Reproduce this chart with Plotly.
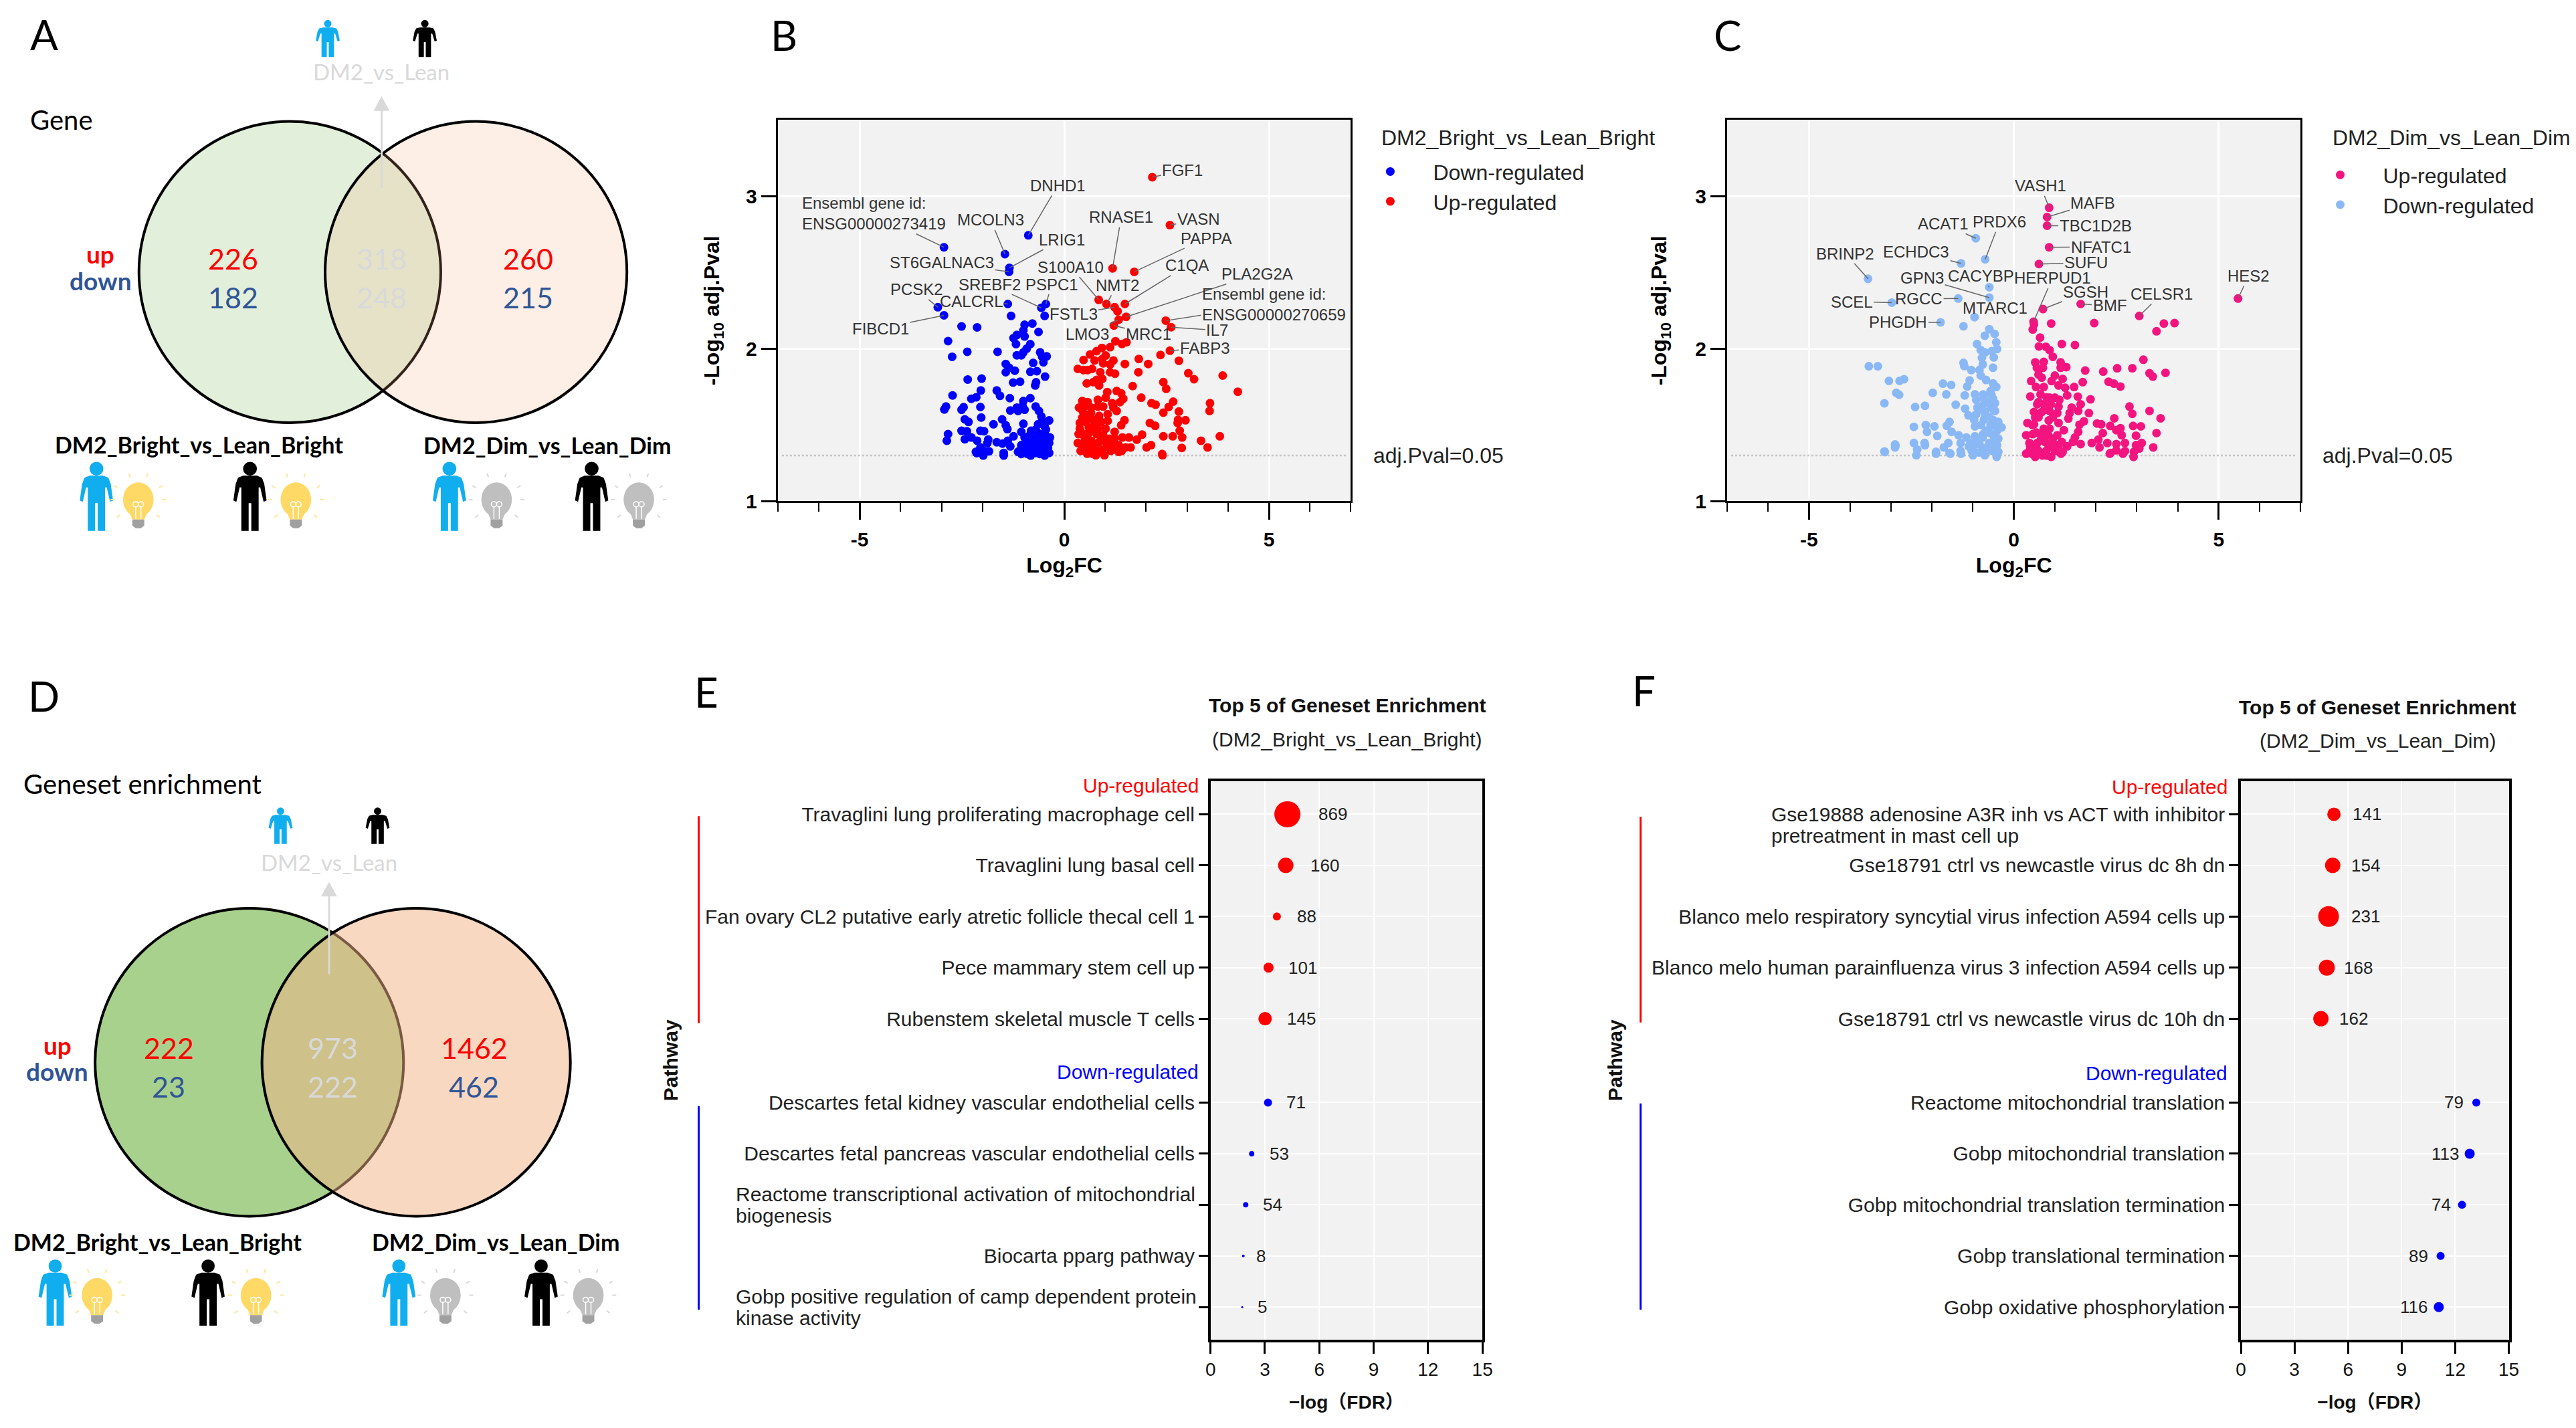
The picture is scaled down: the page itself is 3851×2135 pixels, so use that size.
import math
import plotly.graph_objects as go

W, H = 3851, 2135

# ---------- DATA ----------
venn_a_up = [226, 318, 260]
venn_a_down = [182, 248, 215]
venn_d_up = [222, 973, 1462]
venn_d_down = [23, 222, 462]

b_down_body = [(-2.51,2.146),(-2.13,2.14),(-2.84,2.05),(-0.63,2.11),(-0.97,2.157),(-0.78,2.165),(-1.0,2.12),(-1.16,2.09),(-1.24,2.07),(-0.97,2.08),(-1.18,2.03),(-0.83,2.03),(-0.92,2.0),(-1.0,1.976),(-1.16,1.957),(-1.05,1.957),(-2.37,1.98),(-2.74,1.947),(-1.63,1.98),(-0.59,1.976),(-0.43,1.95),(-0.54,1.947),(-0.51,1.911),(-0.76,1.907),(-1.43,1.9),(-1.35,1.875),(-1.21,1.856),(-1.43,1.846),(-0.83,1.849),(-0.67,1.853),(-0.47,1.817),(-1.25,1.778),(-1.08,1.784),(-0.69,1.78),(-0.71,1.759),(-2.36,1.798),(-2.02,1.804),(-2.04,1.726),(-2.73,1.694),(-2.27,1.672),(-2.15,1.682),(-1.65,1.726),(-1.57,1.691),(-1.33,1.676),(-2.89,1.621),(-2.93,1.602),(-2.46,1.617),(-2.51,1.6),(-2.05,1.618),(-0.83,1.676),(-1.0,1.657),(-1.02,1.624),(-1.16,1.614),(-1.32,1.595),(-1.13,1.592),(-0.97,1.6),(-0.7,1.621),(-0.62,1.592),(-0.56,1.556),(-0.37,1.53),(-0.54,1.527),(-2.03,1.549),(-2.43,1.537),(-2.34,1.52),(-1.73,1.505),(-1.52,1.537),(-1.43,1.498),(-1.39,1.473),(-1.0,1.508),(-0.64,1.505),(-0.48,1.491),(-2.51,1.462),(-2.38,1.459),(-2.05,1.462),(-1.96,1.459),(-2.84,1.44),(-2.87,1.397),(-2.43,1.407),(-2.27,1.418),(-2.13,1.397),(-1.86,1.404),(-1.88,1.382),(-1.65,1.387),(-1.51,1.378),(-1.38,1.397),(-1.24,1.426),(-1.05,1.455),(-0.97,1.418),(-0.81,1.462),(-0.64,1.447),(-0.48,1.447),(-0.35,1.418),(-0.54,1.404),(-0.75,1.411),(-0.92,1.39),(-0.37,1.382),(-0.64,1.375),(-1.05,1.368),(-1.32,1.36),(-0.4,1.346),(-0.56,1.339),(-0.81,1.346),(-0.97,1.331),(-1.13,1.324),(-1.48,1.317),(-1.84,1.328),(-1.97,1.331),(-2.16,1.324),(-2.05,1.353),(-0.37,1.317),(-0.7,1.317),(-2.14,1.316),(-1.98,1.30),(-1.48,1.30),(-1.05,1.31),(-0.82,1.30),(-0.48,1.30),(-0.40,1.354),(-1.30,2.215),(-0.48,2.215),(-0.45,1.47),(-0.6,1.43),(-0.75,1.38),(-0.9,1.35),(-0.5,1.36),(-0.65,1.35),(-0.85,1.43),(-0.7,1.47),(-0.55,1.32),(-1.0,1.37),(-0.9,1.31),(-0.6,1.31),(-0.45,1.33),(-0.8,1.31),(-0.5,1.40),(-1.1,1.33)]
b_down_named = {"DNHD1":(-0.88,2.743),"Ensembl gene id:<br>ENSG00000273419":(-2.94,2.665),"MCOLN3":(-1.45,2.62),"LRIG1":(-1.34,2.53),"ST6GALNAC3":(-1.35,2.504),"CALCRL":(-1.38,2.293),"PSPC1":(-0.45,2.293),"SREBF2":(-0.56,2.268),"PCSK2":(-3.09,2.272),"FIBCD1":(-2.94,2.219)}

b_up_body = [(1.25,2.049),(1.41,2.031),(1.52,2.042),(1.12,2.01),(0.92,2.005),(0.79,1.984),(0.63,1.962),(2.35,1.959),(2.8,1.921),(1.82,1.933),(2.05,1.9),(1.48,1.9),(1.01,1.955),(0.93,1.933),(0.74,1.923),(0.47,1.926),(1.2,1.923),(0.95,1.904),(1.12,1.897),(0.33,1.868),(0.47,1.86),(0.68,1.868),(0.57,1.86),(0.88,1.846),(1.12,1.846),(1.24,1.836),(1.81,1.846),(3.03,1.839),(3.17,1.8),(3.87,1.824),(0.93,1.802),(0.79,1.795),(0.55,1.773),(0.71,1.781),(0.85,1.759),(1.67,1.755),(2.42,1.781),(2.49,1.737),(4.24,1.718),(1.05,1.716),(1.28,1.723),(1.39,1.708),(1.44,1.672),(1.01,1.679),(1.88,1.679),(0.44,1.657),(0.57,1.65),(0.82,1.665),(0.36,1.614),(0.49,1.621),(0.66,1.614),(0.82,1.621),(0.95,1.621),(1.17,1.643),(1.36,1.65),(1.2,1.614),(1.28,1.592),(2.13,1.643),(2.23,1.633),(2.66,1.653),(2.55,1.618),(2.8,1.588),(2.42,1.581),(3.56,1.643),(3.55,1.592),(1.06,1.571),(0.44,1.549),(0.6,1.556),(0.38,1.513),(0.52,1.52),(0.71,1.534),(0.9,1.52),(1.06,1.527),(1.47,1.531),(1.39,1.498),(2.09,1.513),(2.22,1.495),(2.78,1.534),(2.96,1.531),(2.77,1.513),(0.38,1.476),(0.6,1.484),(0.82,1.476),(1.01,1.476),(2.82,1.462),(1.23,1.455),(0.6,1.447),(0.44,1.447),(0.79,1.44),(0.95,1.433),(2.42,1.426),(2.65,1.426),(2.88,1.418),(1.9,1.437),(1.77,1.404),(1.58,1.418),(1.42,1.418),(1.23,1.411),(3.8,1.426),(3.34,1.397),(3.5,1.353),(0.33,1.382),(0.49,1.389),(0.66,1.397),(0.85,1.389),(0.98,1.397),(1.14,1.375),(1.33,1.368),(1.5,1.353),(1.62,1.353),(2.12,1.368),(2.01,1.353),(2.87,1.35),(0.44,1.346),(0.6,1.353),(0.76,1.339),(0.93,1.339),(1.14,1.331),(1.33,1.324),(2.39,1.31),(0.56,1.312),(0.77,1.302),(0.98,1.302),(0.51,1.354),(2.4,1.302),(1.30,2.245),(0.35,1.44),(0.5,1.42),(0.65,1.37),(0.45,1.36),(0.55,1.32),(0.7,1.31),(0.85,1.33),(0.4,1.33),(0.65,1.47),(0.75,1.51),(0.5,1.55),(0.85,1.56),(0.65,1.58),(0.45,1.59),(0.75,1.36),(0.9,1.42),(1.1,1.41),(1.05,1.36),(1.2,1.34),(1.4,1.33)]
b_up_named = {"FGF1":(2.15,3.124),"VASN":(2.58,2.81),"RNASE1":(1.18,2.527),"PAPPA":(1.71,2.504),"S100A10":(0.84,2.32),"NMT2":(1.03,2.293),"C1QA":(1.48,2.293),"FSTL3":(1.23,2.272),"PLA2G2A":(1.51,2.209),"Ensembl gene id:<br>ENSG00000270659":(2.48,2.184),"IL7":(2.61,2.141),"MRC1":(1.21,2.152),"LMO3":(1.33,2.19),"FABP3":(2.58,1.987)}

c_down_body = [(-1.23,2.147),(-0.6,2.128),(-0.47,2.097),(-0.71,2.085),(-0.43,2.042),(-0.9,2.031),(-0.41,1.998),(-0.81,1.991),(-0.7,1.976),(-0.54,1.984),(-0.49,1.943),(-0.78,1.94),(-0.76,1.897),(-0.51,1.875),(-3.54,1.885),(-3.32,1.885),(-1.23,1.907),(-1.21,1.886),(-1.04,1.86),(-0.84,1.86),(-0.81,1.824),(-3.05,1.789),(-2.79,1.789),(-2.68,1.8),(-2.87,1.711),(-2.8,1.698),(-3.16,1.642),(-1.73,1.771),(-1.53,1.762),(-1.08,1.792),(-1.14,1.752),(-1.98,1.711),(-1.65,1.701),(-1.2,1.694),(-0.68,1.795),(-0.51,1.773),(-0.43,1.749),(-0.57,1.723),(-0.95,1.701),(-0.92,1.665),(-0.73,1.672),(-0.51,1.672),(-0.76,1.629),(-0.57,1.621),(-0.46,1.643),(-0.89,1.614),(-0.46,1.592),(-0.7,1.585),(-0.92,1.57),(-1.42,1.633),(-1.19,1.607),(-2.41,1.618),(-2.17,1.626),(-1.11,1.563),(-0.97,1.534),(-0.95,1.491),(-0.73,1.534),(-0.51,1.534),(-0.38,1.52),(-0.3,1.484),(-0.57,1.498),(-0.41,1.462),(-0.68,1.462),(-0.51,1.433),(-2.44,1.488),(-2.15,1.5),(-2.12,1.455),(-1.94,1.491),(-1.87,1.428),(-1.57,1.52),(-1.64,1.495),(-1.52,1.455),(-1.35,1.433),(-1.16,1.418),(-0.95,1.426),(-0.76,1.418),(-0.38,1.411),(-1.3,1.382),(-1.06,1.382),(-0.84,1.375),(-0.6,1.382),(-0.41,1.368),(-2.44,1.382),(-2.18,1.382),(-2.17,1.368),(-2.9,1.372),(-2.9,1.353),(-3.16,1.327),(-2.36,1.339),(-1.6,1.382),(-1.71,1.353),(-1.9,1.324),(-1.57,1.317),(-1.3,1.331),(-1.03,1.331),(-0.78,1.324),(-0.54,1.331),(-0.38,1.324),(-3.15,1.323),(-2.89,1.365),(-2.38,1.302),(-1.9,1.312),(-1.55,1.312),(-1.0,1.302),(-0.42,1.291),(-1.29,1.312),(-0.71,1.302),(-0.5,1.6),(-0.6,1.55),(-0.7,1.56),(-0.8,1.5),(-0.65,1.65),(-0.55,1.7),(-0.75,1.7),(-0.85,1.6),(-0.5,1.5),(-0.6,1.45),(-0.75,1.44),(-0.9,1.4),(-0.55,1.35),(-0.7,1.35),(-1.0,1.35),(-0.45,1.4),(-0.85,1.32),(-1.1,1.36)]
c_down_named = {"ACAT1":(-0.93,2.724),"PRDX6":(-0.70,2.586),"ECHDC3":(-1.29,2.559),"BRINP2":(-3.56,2.458),"CACYBP":(-0.6,2.403),"GPN3":(-0.6,2.335),"RGCC":(-1.36,2.329),"SCEL":(-2.98,2.302),"MTARC1":(-0.96,2.207),"PHGDH":(-1.79,2.173)}

c_up_body = [(0.49,2.16),(0.91,2.165),(3.66,2.165),(3.92,2.168),(1.96,2.168),(0.46,2.126),(3.48,2.114),(0.64,2.073),(1.17,2.031),(1.49,2.024),(0.61,2.015),(0.78,2.013),(0.87,1.991),(0.95,1.947),(3.16,1.928),(0.52,1.911),(0.73,1.914),(1.14,1.911),(0.56,1.875),(0.71,1.875),(1.28,1.879),(1.14,1.875),(1.74,1.857),(2.18,1.85),(2.52,1.872),(2.89,1.872),(3.31,1.839),(3.39,1.817),(3.7,1.842),(0.6,1.831),(0.68,1.81),(1.0,1.824),(1.19,1.802),(0.92,1.788),(0.42,1.788),(1.68,1.781),(2.31,1.784),(2.44,1.771),(2.6,1.752),(1.47,1.749),(0.54,1.749),(0.73,1.749),(1.09,1.759),(1.25,1.744),(0.65,1.701),(0.4,1.687),(1.3,1.694),(1.56,1.686),(0.87,1.679),(1.0,1.679),(1.11,1.665),(1.87,1.668),(0.57,1.636),(0.73,1.636),(0.9,1.636),(1.09,1.621),(1.63,1.636),(1.41,1.614),(0.49,1.585),(0.68,1.585),(0.87,1.592),(1.06,1.578),(1.57,1.592),(1.36,1.578),(1.83,1.578),(2.82,1.621),(2.89,1.573),(3.31,1.592),(3.58,1.544),(2.45,1.544),(1.33,1.542),(0.52,1.549),(0.33,1.513),(0.49,1.505),(1.09,1.513),(1.71,1.524),(1.6,1.502),(2.03,1.51),(2.13,1.505),(2.35,1.494),(2.91,1.494),(3.1,1.491),(2.6,1.479),(2.5,1.466),(2.63,1.433),(3.48,1.447),(0.73,1.476),(0.87,1.476),(1.22,1.466),(0.3,1.433),(0.46,1.44),(0.65,1.44),(0.84,1.433),(1.06,1.433),(1.57,1.455),(1.49,1.418),(2.17,1.447),(2.98,1.43),(0.38,1.382),(0.57,1.382),(0.76,1.389),(0.95,1.382),(1.17,1.389),(1.3,1.36),(1.44,1.389),(1.63,1.375),(1.9,1.382),(2.06,1.404),(2.28,1.382),(2.09,1.353),(2.5,1.375),(2.71,1.382),(3.12,1.382),(2.98,1.368),(3.4,1.353),(0.38,1.331),(0.57,1.339),(0.79,1.331),(1.0,1.331),(1.19,1.324),(2.36,1.317),(2.5,1.334),(2.71,1.329),(2.93,1.324),(3.06,1.346),(0.52,1.291),(0.91,1.291),(1.15,1.312),(2.34,1.312),(2.66,1.312),(2.92,1.291),(0.3,1.312),(0.45,1.5),(0.55,1.45),(0.65,1.4),(0.4,1.36),(0.6,1.33),(0.7,1.3),(0.85,1.36),(0.95,1.41),(0.75,1.44),(0.85,1.53),(0.6,1.55),(0.75,1.6),(0.95,1.55),(0.6,1.65),(0.8,1.68),(1.0,1.33),(0.45,1.31),(0.8,1.3),(1.1,1.37)]
c_up_named = {"VASH1":(0.86,2.924),"MAFB":(0.81,2.863),"TBC1D2B":(0.81,2.806),"NFATC1":(0.86,2.665),"SUFU":(0.61,2.555),"HERPUD1":(0.48,2.177),"SGSH":(0.71,2.26),"BMF":(1.63,2.293),"CELSR1":(3.06,2.215),"HES2":(5.47,2.329)}

volcano_x_ticks = [-5, 0, 5]
volcano_x_text = ["-5", "0", "5"]

e_pathways = ["Travaglini lung proliferating macrophage cell","Travaglini lung basal cell","Fan ovary CL2 putative early atretic follicle thecal cell 1","Pece mammary stem cell up","Rubenstem skeletal muscle T cells","Descartes fetal kidney vascular endothelial cells","Descartes fetal pancreas vascular endothelial cells","Reactome transcriptional activation of mitochondrial<br>biogenesis","Biocarta pparg pathway","Gobp positive regulation of camp dependent protein<br>kinase activity"]
e_logfdr = [4.24,4.15,3.66,3.2,3.01,3.17,2.27,1.94,1.81,1.75]
e_counts = [869,160,88,101,145,71,53,54,8,5]
f_pathways = ["Gse19888 adenosine A3R inh vs ACT with inhibitor<br>pretreatment in mast cell up","Gse18791 ctrl vs newcastle virus dc 8h dn","Blanco melo respiratory syncytial virus infection A594 cells up","Blanco melo human parainfluenza virus 3 infection A594 cells up","Gse18791 ctrl vs newcastle virus dc 10h dn","Reactome mitochondrial translation","Gobp mitochondrial translation","Gobp mitochondrial translation termination","Gobp translational termination","Gobp oxidative phosphorylation"]
f_logfdr = [5.21,5.14,4.91,4.81,4.48,13.18,12.81,12.38,11.18,11.08]
f_counts = [141,154,231,168,162,79,113,74,89,116]

# ---------- STYLE / LAYOUT TABLES ----------
ARIAL = "Liberation Sans, Arial, sans-serif"
CJK = "Liberation Sans, Noto Sans CJK SC, sans-serif"
LATO = "Lato, Carlito, sans-serif"
RED, BLUE, PINK, PALE = "#ff0000", "#0000ff", "#f4147f", "#8ab8f5"
NAVY, GREY = "#2f5597", "#d9d9d9"

b_text_at = {"FGF1":(2.89,3.169),"DNHD1":(-0.16,3.07),"Ensembl gene id:<br>ENSG00000273419":(-4.65,2.886),"MCOLN3":(-1.80,2.844),"LRIG1":(-0.06,2.715),"ST6GALNAC3":(-2.99,2.565),"RNASE1":(1.39,2.861),"VASN":(3.28,2.848),"PAPPA":(3.46,2.724),"C1QA":(3.0,2.546),"S100A10":(0.16,2.536),"PLA2G2A":(4.71,2.489),"SREBF2":(-1.82,2.422),"PSPC1":(-0.3,2.422),"NMT2":(1.29,2.416),"PCSK2":(-3.61,2.388),"CALCRL":(-2.27,2.312),"Ensembl gene id:<br>ENSG00000270659":(5.12,2.293),"FSTL3":(0.22,2.228),"FIBCD1":(-4.49,2.133),"IL7":(3.74,2.12),"LMO3":(0.57,2.097),"MRC1":(2.06,2.097),"FABP3":(3.44,2.004)}
c_text_at = {"VASH1":(0.65,3.068),"MAFB":(1.93,2.954),"TBC1D2B":(1.99,2.808),"ACAT1":(-1.73,2.819),"PRDX6":(-0.35,2.831),"NFATC1":(2.12,2.667),"BRINP2":(-4.11,2.624),"ECHDC3":(-2.38,2.633),"SUFU":(1.76,2.563),"HES2":(5.73,2.477),"GPN3":(-2.24,2.462),"CACYBP":(-0.8,2.477),"HERPUD1":(0.94,2.462),"SGSH":(1.76,2.371),"RGCC":(-2.32,2.327),"SCEL":(-3.96,2.308),"CELSR1":(3.61,2.359),"BMF":(2.34,2.283),"MTARC1":(-0.46,2.268),"PHGDH":(-2.82,2.173)}

rows = [1,2,3,4,5,6.64,7.64,8.64,9.64,10.64]
e_marker_px = [39,23,12,15,20,12,8,8,4,3]
f_marker_px = [20,23,31,24,23,12,15,12,12,15]
e_label_shift = [68,58,45,51,54,42,41,40,26,30]
f_label_shift = [49,49,55,47,49,-33,-37,-31,-33,-37]

ox, oy = 0, 0
X = lambda px: (px + ox) / W
Y = lambda py: 1 - (py + oy) / H
fig = go.Figure()
shapes, notes = [], []


def txt(text, px, py, size, color="#000", font=LATO, anchor="center", angle=0, align="center"):
    notes.append(dict(text=text, x=X(px), y=Y(py), xref="paper", yref="paper", showarrow=False,
                      xanchor=anchor, yanchor="middle", textangle=angle, align=align,
                      font=dict(size=size, color=color, family=font)))


def poly(pts, fill, line=None, lw=0):
    d = "M " + " L ".join(f"{X(a):.5f},{Y(b):.5f}" for a, b in pts) + " Z"
    shapes.append(dict(type="path", xref="paper", yref="paper", path=d, fillcolor=fill,
                       line=dict(color=line or fill, width=lw)))


def seg(x0, y0, x1, y1, color, width):
    shapes.append(dict(type="line", xref="paper", yref="paper", x0=X(x0), y0=Y(y0), x1=X(x1), y1=Y(y1),
                       line=dict(color=color, width=width)))


def ell(cx, cy, rx, ry, fill, line=None, lw=0):
    shapes.append(dict(type="circle", xref="paper", yref="paper", x0=X(cx-rx), x1=X(cx+rx), y0=Y(cy+ry), y1=Y(cy-ry),
                       fillcolor=fill, line=dict(color=line or "rgba(0,0,0,0)", width=lw)))


PERSON = [(-.2,.2),(.2,.2),(.36,.23),(.43,.32),(.5,.56),(.41,.58),(.31,.37),(.26,.37),(.26,1),(.04,1),(.04,.6),(-.04,.6),(-.04,1),(-.26,1),(-.26,.37),(-.31,.37),(-.41,.58),(-.5,.56),(-.43,.32),(-.36,.23)]


def person(cx, top, w, h, color):
    ell(cx, top + .1*h, .1*h, .1*h, color)
    poly([(cx + a*w, top + b*h) for a, b in PERSON], color)


def bulb(cx, cy, glass, ray):
    for a in (-150,-110,-70,-30,0,40,140,180):
        c, s = math.cos(math.radians(a)), math.sin(math.radians(a))
        seg(cx + 36*c, cy + 36*s, cx + 42*c, cy + 42*s, ray, 2)
    ell(cx, cy, 23, 26, glass)
    poly([(cx-14,cy+18),(cx+14,cy+18),(cx+9,cy+30),(cx-9,cy+30)], glass)
    poly([(cx-9,cy+30),(cx+9,cy+30),(cx+9,cy+39),(cx+4,cy+43),(cx-4,cy+43),(cx-9,cy+39)], "#a0a0a0")
    seg(cx-4, cy+29, cx-4, cy+10, "#ffffff", 1.5)
    seg(cx+4, cy+29, cx+4, cy+10, "#ffffff", 1.5)
    ell(cx-4, cy+7, 4, 4, "rgba(0,0,0,0)", "#ffffff", 1.5)
    ell(cx+4, cy+7, 4, 4, "rgba(0,0,0,0)", "#ffffff", 1.5)


YEL, YRAY, GB, GRAY = "#ffd966", "#ffe699", "#bfbfbf", "#d9d9d9"
BLUEP = "#10aeef"


def venn(cL, cR, cy, r, fL, fR, ups, downs, xs, y_up, y_dn, xud, y_u, y_d, numsize):
    ell(cL, cy, r, r, fL, "#000", 4)
    ell(cR, cy, r, r, fR, "#000", 4)
    for i, cx in enumerate(xs):
        txt(str(ups[i]), cx, y_up, numsize, GREY if i == 1 else RED)
        txt(str(downs[i]), cx, y_dn, numsize, GREY if i == 1 else NAVY)
    txt("<b>up</b>", xud, y_u, 37, RED)
    txt("<b>down</b>", xud, y_d, 37, NAVY)


# Panel A
ox, oy = -6, 4
venn(434, 714, 406, 227, "#e2efda", "rgba(244,177,131,0.2)", venn_a_up, venn_a_down, [349,572,792], 386, 444, 149, 379, 419, 43)
seg(572, 279, 572, 160, GRAY, 3)
poly([(572,141),(560,163),(584,163)], GRAY)
person(491, 26, 36, 56, BLUEP)
person(637, 26, 36, 56, "#000")
txt("DM2_vs_Lean", 572, 104, 33, GRAY)
txt("Gene", 91, 176, 40)
txt("<b>DM2_Bright_vs_Lean_Bright</b>", 297, 666, 34)
txt("<b>DM2_Dim_vs_Lean_Dim</b>", 821, 667, 34)
for cx, c, b, col, ry in [(143,BLUEP,206,YEL,YRAY),(374,"#000",443,YEL,YRAY),(674,BLUEP,745,GB,GRAY),(888,"#000",959,GB,GRAY)]:
    person(cx, 692, 50, 104, c)
    bulb(b, 749, col, ry)

# Panel D
ox, oy = -6, 10
venn(373, 624, 1591, 232, "#a9d18e", "rgba(244,177,131,0.5)", venn_d_up, venn_d_down, [252,499,711], 1569, 1628, 84, 1565, 1604, 43)
seg(493, 1458, 493, 1338, GRAY, 3)
poly([(493,1319),(481,1341),(505,1341)], GRAY)
person(420, 1207, 36, 55, BLUEP)
person(566, 1207, 36, 55, "#000")
txt("DM2_vs_Lean", 493, 1289, 33, GRAY)
txt("Geneset enrichment", 212, 1171, 40)
txt("<b>DM2_Bright_vs_Lean_Bright</b>", 235, 1861, 34)
txt("<b>DM2_Dim_vs_Lean_Dim</b>", 744, 1861, 34)
for cx, c, b, col, ry in [(81,BLUEP,144,YEL,YRAY),(311,"#000",383,YEL,YRAY),(598,BLUEP,668,GB,GRAY),(812,"#000",883,GB,GRAY)]:
    person(cx, 1888, 50, 100, c)
    bulb(b, 1942, col, ry)

ox, oy = 0, 0
txt("A", 58, 51, 62)
txt("B", 1171, 52, 62)
txt("C", 2591, 52, 62)
txt("D", 58, 1048, 62)
txt("E", 1055, 1042, 62)
txt("F", 2465, 1040, 62)


# Volcano panels
def volcano(sfx, left, right, top, bottom, first, second, named_texts, legend_id, lg_x, lg_y, title, title_x, pv_x, ystand):
    xa, ya = "x" + sfx, "y" + sfx
    fig.add_trace(go.Scatter(x=[-6.9, 6.9], y=[1.3, 1.3], mode="lines", xaxis=xa, yaxis=ya, showlegend=False,
                             hoverinfo="skip", line=dict(color="#c4c4c4", width=2.5, dash="dot")))
    for name, body, named, color in (first, second):
        pts = body + list(named.values())
        fig.add_trace(go.Scatter(x=[p[0] for p in pts], y=[p[1] for p in pts], mode="markers", name=name,
                                 xaxis=xa, yaxis=ya, legend=legend_id,
                                 marker=dict(size=13, color=color, opacity=1, line=dict(width=0))))
        for label, (px, py) in named.items():
            tx, ty = named_texts[label]
            notes.append(dict(text=label, x=px, y=py, ax=tx, ay=ty, xref=xa, yref=ya, axref=xa, ayref=ya,
                              showarrow=True, arrowhead=0, arrowwidth=1.5, arrowcolor="#666666", standoff=0,
                              align="left", font=dict(size=24, color="#333333", family=ARIAL)))
    kx = dict(domain=[left/W, right/W], range=[-7, 7], tickmode="array", tickvals=volcano_x_ticks, ticktext=volcano_x_text, ticks="outside",
              ticklen=25, tickwidth=3, tickcolor="#000", showline=True, linecolor="#000", linewidth=3, mirror=True,
              showgrid=True, gridcolor="#fff", gridwidth=3, zeroline=False, ticklabelstandoff=4,
              tickfont=dict(size=30, family=ARIAL, color="#000", weight="bold"),
              minor=dict(tickmode="linear", tick0=0, dtick=1, ticks="outside", ticklen=13, tickwidth=2, tickcolor="#000", showgrid=False),
              title=dict(text="<b>Log<sub>2</sub>FC</b>", standoff=12, font=dict(size=32, family=ARIAL, color="#000")),
              anchor=ya)
    ky = dict(domain=[1-bottom/H, 1-top/H], range=[1, 3.5], tickmode="linear", tick0=1, dtick=1, ticks="outside",
              ticklen=22, tickwidth=3, tickcolor="#000", showline=True, linecolor="#000", linewidth=3, mirror=True,
              showgrid=True, gridcolor="#fff", gridwidth=3, zeroline=False,
              tickfont=dict(size=30, family=ARIAL, color="#000", weight="bold"),
              title=dict(text="<b>-Log<sub>10</sub> adj.Pval</b>", standoff=ystand, font=dict(size=32, family=ARIAL, color="#000")),
              anchor=xa)
    axname = "axis" + sfx
    fig.update_layout(**{"x"+axname: kx, "y"+axname: ky})
    txt(title, title_x, 208, 32, "#222", ARIAL, "left")
    txt("adj.Pval=0.05", pv_x, 686, 32, "#222", ARIAL, "left")
    return dict(x=lg_x/W, y=Y(lg_y), xanchor="left", yanchor="top", bgcolor="rgba(0,0,0,0)", itemwidth=118,
                font=dict(size=32, family=ARIAL, color="#222"), traceorder="normal", itemclick=False)


lg1 = volcano("", 1162, 2024, 180.6, 755.5,
              ("Down-regulated", b_down_body, b_down_named, BLUE), ("Up-regulated", b_up_body, b_up_named, RED),
              b_text_at, "legend", 2019, 231, "DM2_Bright_vs_Lean_Bright", 2068, 2056, 30)
lg2 = volcano("2", 2590, 3453, 180.6, 755.5,
              ("Up-regulated", c_up_body, c_up_named, PINK), ("Down-regulated", c_down_body, c_down_named, PALE),
              c_text_at, "legend2", 3448, 236, "DM2_Dim_vs_Lean_Dim", 3499, 3484, 33)


# Enrichment panels
def dots(sfx, left, right, top, bottom, names, vals, counts, sizes, shifts, rx, rgt_px, title, tcx, ty0, ty1, up_y, dn_y, pstand, bar_x, r_seg, b_seg, wrap_left, first_at_tick):
    xa, ya = "x" + sfx, "y" + sfx
    fig.add_trace(go.Scatter(x=vals, y=rows, mode="markers", xaxis=xa, yaxis=ya, showlegend=False,
                             marker=dict(size=sizes, color=[RED]*5 + [BLUE]*5, opacity=1, line=dict(width=0))))
    px_per = (bottom - top) / (rx[0] - rx[1])
    vals_lab, labels, blanks = [], [], []
    for i, n in enumerate(names):
        if "<br>" in n:
            blanks.append(rows[i])
            py = top + (rows[i] - rx[1]) * px_per
            a, b = n.split("<br>")
            if first_at_tick:
                y1, y2 = py, py + 32
            else:
                y1, y2 = py - 16, py + 16
            txt(a, wrap_left, y1, 30, "#222", ARIAL, "left")
            txt(b, wrap_left, y2, 30, "#222", ARIAL, "left")
        else:
            vals_lab.append(rows[i])
            labels.append(n)
        notes.append(dict(text=str(counts[i]), x=vals[i], y=rows[i], xref=xa, yref=ya, xshift=shifts[i], showarrow=False,
                          xanchor="center", yanchor="middle", font=dict(size=26, color="#222", family=ARIAL)))
    fig.update_layout(**{
        "xaxis"+sfx: dict(domain=[left/W, right/W], range=[0, 15], tickmode="linear", tick0=0, dtick=3, ticks="outside", ticklen=17,
                          tickwidth=3, tickcolor="#000", showline=True, linecolor="#000", linewidth=3.5, mirror=True,
                          showgrid=True, gridcolor="#fff", gridwidth=2, zeroline=False, anchor=ya, ticklabelstandoff=0,
                          tickfont=dict(size=28, family=ARIAL, color="#111"),
                          title=dict(text="<b>−log（FDR）</b>", standoff=25, font=dict(size=28, family=CJK, color="#111"))),
        "yaxis"+sfx: dict(domain=[1-bottom/H, 1-top/H], range=list(rx), tickmode="array", tickvals=vals_lab, ticktext=labels,
                          ticks="outside", ticklen=14, tickwidth=3, tickcolor="#000", showline=True, linecolor="#000", linewidth=3.5,
                          mirror=True, showgrid=True, gridcolor="#fff", gridwidth=2, zeroline=False, anchor=xa,
                          tickfont=dict(size=30, family=ARIAL, color="#222"),
                          minor=dict(tickmode="array", tickvals=blanks, ticks="outside", ticklen=14, tickwidth=3, tickcolor="#000",
                                     showgrid=True, gridcolor="#fff", gridwidth=2),
                          title=dict(text="<b>Pathway</b>", standoff=pstand, font=dict(size=30, family=ARIAL, color="#111")))})
    txt("<b>Top 5 of Geneset Enrichment</b>", tcx, ty0, 30, "#111", ARIAL)
    txt(title, tcx, ty1, 30, "#222", ARIAL)
    txt("Up-regulated", rgt_px, up_y, 30, RED, ARIAL, "right")
    txt("Down-regulated", rgt_px, dn_y, 30, BLUE, ARIAL, "right")
    seg(bar_x, r_seg[0], bar_x, r_seg[1], RED, 3)
    seg(bar_x, b_seg[0], bar_x, b_seg[1], BLUE, 3)


dots("3", 1813, 2222, 1177, 2019, e_pathways, e_logfdr, e_counts, e_marker_px, e_label_shift, (11.278, 0.349), 1797,
     "(DM2_Bright_vs_Lean_Bright)", 2019, 1063, 1114, 1184, 1615, 32, 1043, (1230, 1542), (1667, 1974), 1097, False)
dots("4", 3363, 3766, 1177, 2019, f_pathways, f_logfdr, f_counts, f_marker_px, f_label_shift, (11.278, 0.349), 3345,
     "(DM2_Dim_vs_Lean_Dim)", 3569, 1066, 1116, 1186, 1617, 36, 2460, (1231, 1541), (1663, 1974), 2655, True)

fig.update_layout(width=W, height=H, autosize=False, margin=dict(l=0, r=0, t=0, b=0, pad=0), paper_bgcolor="#fff",
                  plot_bgcolor="#f2f2f2", shapes=shapes, annotations=notes, legend=lg1, legend2=lg2, hovermode=False,
                  font=dict(family=ARIAL))
fig.write_html("out.html", config={"displayModeBar": False}, post_script="document.body.style.margin='0';")
